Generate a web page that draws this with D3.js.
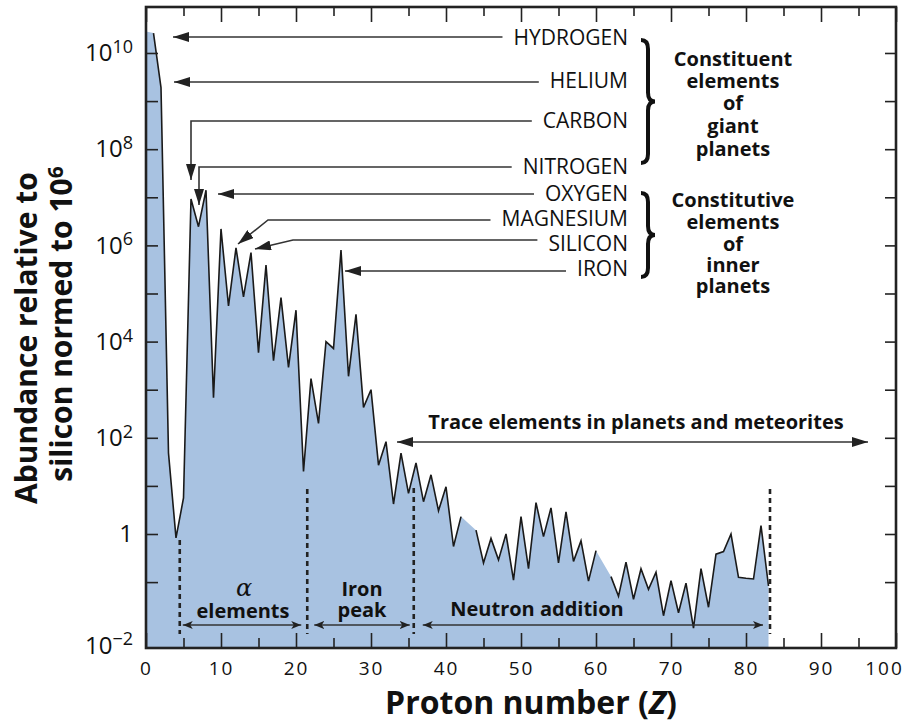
<!DOCTYPE html>
<html lang="en">
<head>
	<meta charset="UTF-8">
	<title>Solar system abundances</title>
	<script src="https://cdn.jsdelivr.net/npm/d3@7"></script>
	<style>
		body { margin: 0; background: #fff; }
		text { font-family: "Open Sans", sans-serif; fill: #111; }
		.tick line { stroke: #222; stroke-width: 1.6; }
		.axis--y text { font-size: 24px; }
		.axis--x text { font-size: 19px; letter-spacing: 2px; }
		.elem { font-size: 21px; }
		.note { font-size: 20px; font-weight: bold; }
		.ann { fill: none; stroke: #333; stroke-width: 1.6; }
	</style>
</head>
<body>
<script type="text/javascript">

	// proton number Z and abundance relative to Si = 1e6
	var protonNumbers = d3.range(0, 84);
	var abundances = [
		2.8e10, 2.6e10, 1.9e9, 48, 0.83, 5.6, 9.2e6, 2.45e6, 1.4e7, 680,
		2.2e6, 5.5e4, 8.9e5, 8.5e4, 7.1e5, 5.9e3, 3.9e5, 4.0e3, 8.2e4, 2.9e3,
		4.5e4, 20, 1.7e3, 200, 1.0e4, 7.2e3, 8.0e5, 1.9e3, 3.7e4, 430,
		1.0e3, 27, 83, 4.2, 48, 7.0, 30, 4.7, 17, 3.05,
		9.6, 0.55, 2.3, null, 1.2, 0.25, 0.81, 0.29, 1.0, 0.11,
		2.3, 0.19, 4.5, 0.88, 3.5, 0.25, 2.9, 0.27, 0.72, 0.105,
		0.45, null, 0.13, 0.051, 0.26, 0.044, 0.19, 0.071, 0.16, 0.020,
		0.107, 0.023, 0.095, 0.011, 0.19, 0.030, 0.38, 0.43, 1.0, 0.126,
		0.12, 0.116, 1.5, 0.083
	];
	var xTicks = d3.range(0, 101, 10);
	var xMinorTicks = d3.range(5, 100, 10);
	var yExponents = d3.range(-2, 11);
	var yLabelExponents = [-2, 0, 2, 4, 6, 8, 10];
	var elementLabels = ['HYDROGEN', 'HELIUM', 'CARBON', 'NITROGEN', 'OXYGEN', 'MAGNESIUM', 'SILICON', 'IRON'];
	var regionBounds = [4.5, 21.5, 35.7, 83.2];

	var data = protonNumbers.map(function (z, i) {
		return {z: z, v: abundances[i]};
	});

	var W = 912, H = 724;
	var margin = {top: 7, left: 146, right: 16, bottom: 76};
	var width = W - margin.left - margin.right;
	var height = H - margin.top - margin.bottom;

	var svgRoot = d3.select('body').append('svg')
		.attr('width', W)
		.attr('height', H);

	var defs = svgRoot.append('defs');
	defs.append('marker')
		.attr('id', 'head')
		.attr('viewBox', '0 0 16 10')
		.attr('refX', 16).attr('refY', 5)
		.attr('markerWidth', 16).attr('markerHeight', 10)
		.attr('markerUnits', 'userSpaceOnUse')
		.attr('orient', 'auto-start-reverse')
		.append('path').attr('d', 'M0,0L16,5L0,10Z').attr('fill', '#222');
	defs.append('marker')
		.attr('id', 'small')
		.attr('viewBox', '0 0 10 8')
		.attr('refX', 10).attr('refY', 4)
		.attr('markerWidth', 10).attr('markerHeight', 8)
		.attr('markerUnits', 'userSpaceOnUse')
		.attr('orient', 'auto-start-reverse')
		.append('path').attr('d', 'M0,0L10,4L0,8L2.5,4Z').attr('fill', '#222');

	var svg = svgRoot.append('g')
		.attr('transform', 'translate(' + margin.left + ',' + margin.top + ')');

	var x = d3.scaleLinear()
		.domain([0, 100])
		.range([0, width]);

	var y = d3.scaleLog()
		.domain([Math.pow(10, -2.37), Math.pow(10, 10.956)])
		.range([height, 0]);

	// filled area (bridges the missing Tc and Pm), then the outline
	var area = d3.area()
		.x(function (d) { return x(d.z); })
		.y0(height)
		.y1(function (d) { return y(d.v); });

	var line = d3.line()
		.defined(function (d) { return d.v != null && d.z > 0; })
		.x(function (d) { return x(d.z); })
		.y(function (d) { return y(d.v); });

	svg.append('path')
		.datum(data.filter(function (d) { return d.v != null; }))
		.attr('fill', '#a8c2e1')
		.attr('d', area);

	svg.append('path')
		.datum(data)
		.attr('fill', 'none')
		.attr('stroke', '#1a1a1a')
		.attr('stroke-width', 1.6)
		.attr('stroke-linejoin', 'miter')
		.attr('d', line);

	// axes (ticks point inward)
	function supLabel(text, e) {
		text.text(null);
		if (e === 0) { text.text('1'); return; }
		text.append('tspan').text('10');
		text.append('tspan').attr('dy', '-0.45em').style('font-size', '18px')
			.text(e < 0 ? '\u2212' + (-e) : e);
	}

	var axisY = svg.append('g')
		.attr('class', 'axis axis--y')
		.call(d3.axisLeft(y)
			.tickValues(yExponents.map(function (e) { return Math.pow(10, e); }))
			.tickSize(-12)
			.tickPadding(13)
			.tickFormat(''));
	axisY.selectAll('.tick').each(function (d) {
		var e = Math.round(Math.log10(d));
		var t = d3.select(this).select('text');
		if (e === -2) d3.select(this).select('line').remove();
		if (yLabelExponents.indexOf(e) < 0) { t.remove(); return; }
		supLabel(t, e);
		if (e === -2) t.attr('dy', '0.95em');
	});

	svg.append('g')
		.attr('class', 'axis axis--y2')
		.attr('transform', 'translate(' + width + ',0)')
		.call(d3.axisRight(y)
			.tickValues(yExponents.slice(1).map(function (e) { return Math.pow(10, e); }))
			.tickSize(-11)
			.tickFormat(''));

	var axisX = svg.append('g')
		.attr('class', 'axis axis--x')
		.attr('transform', 'translate(0,' + height + ')')
		.call(d3.axisBottom(x).tickValues(xTicks).tickSize(-15).tickPadding(14));
	axisX.selectAll('.tick text').filter(function (d) { return d === 100; })
		.attr('dx', -12);
	svg.append('g')
		.attr('transform', 'translate(0,' + height + ')')
		.call(d3.axisBottom(x).tickValues(xMinorTicks).tickSize(-10).tickFormat(''));
	svg.append('g')
		.call(d3.axisTop(x).tickValues(xTicks).tickSize(-15).tickFormat(''));
	svg.append('g')
		.call(d3.axisTop(x).tickValues(xMinorTicks).tickSize(-9).tickFormat(''));

	svg.selectAll('.domain').remove();

	svg.append('rect')
		.attr('x', 0).attr('y', 0)
		.attr('width', width).attr('height', height)
		.attr('fill', 'none')
		.attr('stroke', '#222')
		.attr('stroke-width', 2.6);

	// axis titles
	var xTitle = svgRoot.append('text')
		.attr('x', 531).attr('y', 714)
		.attr('text-anchor', 'middle')
		.style('font-size', '32px').style('font-weight', 'bold');
	xTitle.append('tspan').text('Proton number (');
	xTitle.append('tspan').style('font-style', 'italic').text('Z');
	xTitle.append('tspan').text(')');

	svgRoot.append('text')
		.attr('transform', 'translate(37,338) rotate(-90)')
		.attr('text-anchor', 'middle')
		.style('font-size', '30px').style('font-weight', 'bold')
		.text('Abundance relative to');
	var yt2 = svgRoot.append('text')
		.attr('transform', 'translate(72,324) rotate(-90)')
		.attr('text-anchor', 'middle')
		.style('font-size', '30px').style('font-weight', 'bold');
	yt2.append('tspan').text('silicon normed to 10');
	yt2.append('tspan').attr('dy', '-0.45em').style('font-size', '21px').text('6');

	// element labels with arrows pointing at their peaks
	var labelY = [37, 80, 120, 166, 193, 218, 243, 268];
	var arrowPaths = [
		[[173, 37]],
		[[174, 82]],
		[[191, 121], [191, 180]],
		[[199, 167], [199, 205]],
		[[218, 194]],
		[[268, 220], [238, 244]],
		[[293, 240], [255, 249]],
		[[345, 271]]
	];
	var ann = svgRoot.append('g');
	elementLabels.forEach(function (name, i) {
		var t = ann.append('text')
			.attr('class', 'elem')
			.attr('x', 628).attr('y', labelY[i] + 7.5)
			.attr('text-anchor', 'end')
			.text(name);
		var left = 628 - t.node().getComputedTextLength() - 11;
		var pts = [[left, arrowPaths[i][0][1]]].concat(arrowPaths[i]);
		ann.append('path')
			.attr('class', 'ann')
			.attr('marker-end', 'url(#head)')
			.attr('d', d3.line()(pts));
	});

	// curly braces
	function brace(bx, y0, y1, w) {
		var ym = (y0 + y1) / 2, h = w / 2, r = 9;
		return 'M' + bx + ',' + y0 +
			'Q' + (bx + h) + ',' + y0 + ' ' + (bx + h) + ',' + (y0 + r) +
			'L' + (bx + h) + ',' + (ym - r) +
			'Q' + (bx + h) + ',' + ym + ' ' + (bx + w) + ',' + ym +
			'Q' + (bx + h) + ',' + ym + ' ' + (bx + h) + ',' + (ym + r) +
			'L' + (bx + h) + ',' + (y1 - r) +
			'Q' + (bx + h) + ',' + y1 + ' ' + bx + ',' + y1;
	}
	ann.append('path').attr('d', brace(641, 40, 163, 14))
		.attr('fill', 'none').attr('stroke', '#111').attr('stroke-width', 4);
	ann.append('path').attr('d', brace(641, 193, 277, 14))
		.attr('fill', 'none').attr('stroke', '#111').attr('stroke-width', 4);

	var giant = ['Constituent', 'elements', 'of', 'giant', 'planets'];
	var inner = ['Constitutive', 'elements', 'of', 'inner', 'planets'];
	var giantY = [66, 88, 110, 133, 156];
	var innerY = [207, 229, 251, 272, 293];
	giant.forEach(function (s, i) {
		ann.append('text').attr('class', 'note').attr('x', 733).attr('y', giantY[i])
			.attr('text-anchor', 'middle').text(s);
	});
	inner.forEach(function (s, i) {
		ann.append('text').attr('class', 'note').attr('x', 733).attr('y', innerY[i])
			.attr('text-anchor', 'middle').text(s);
	});

	// trace elements
	ann.append('text').attr('class', 'note').attr('x', 636).attr('y', 429)
		.attr('text-anchor', 'middle').text('Trace elements in planets and meteorites');
	ann.append('path').attr('class', 'ann')
		.attr('marker-start', 'url(#head)').attr('marker-end', 'url(#head)')
		.attr('d', 'M397,442H868');

	// region boundaries and labels along the bottom
	var bx = regionBounds.map(function (z) { return margin.left + x(z); });
	var dashTop = [540, 489, 488, 489];
	bx.forEach(function (px, i) {
		ann.append('line')
			.attr('x1', px).attr('x2', px)
			.attr('y1', dashTop[i]).attr('y2', 634)
			.attr('stroke', '#222').attr('stroke-width', 2.6)
			.attr('stroke-dasharray', '5,4');
	});
	var spans = [[bx[0] + 3, bx[1] - 6], [bx[1] + 7, bx[2] - 4], [bx[2] + 9, bx[3] - 7]];
	spans.forEach(function (s) {
		ann.append('path').attr('fill', 'none').attr('stroke', '#333').attr('stroke-width', 1.3)
			.attr('marker-start', 'url(#small)').attr('marker-end', 'url(#small)')
			.attr('d', 'M' + s[0] + ',625H' + s[1]);
	});
	ann.append('text').attr('x', 244).attr('y', 596).attr('text-anchor', 'middle')
		.style('font-family', '"DejaVu Serif", serif').style('font-style', 'italic')
		.style('font-size', '24px').text('\u03b1');
	ann.append('text').attr('class', 'note').attr('x', 243).attr('y', 618)
		.attr('text-anchor', 'middle').text('elements');
	ann.append('text').attr('class', 'note').attr('x', 362).attr('y', 596)
		.attr('text-anchor', 'middle').text('Iron');
	ann.append('text').attr('class', 'note').attr('x', 362).attr('y', 617)
		.attr('text-anchor', 'middle').text('peak');
	ann.append('text').attr('class', 'note').attr('x', 537).attr('y', 616)
		.attr('text-anchor', 'middle').text('Neutron addition');

</script>
</body>
</html>
